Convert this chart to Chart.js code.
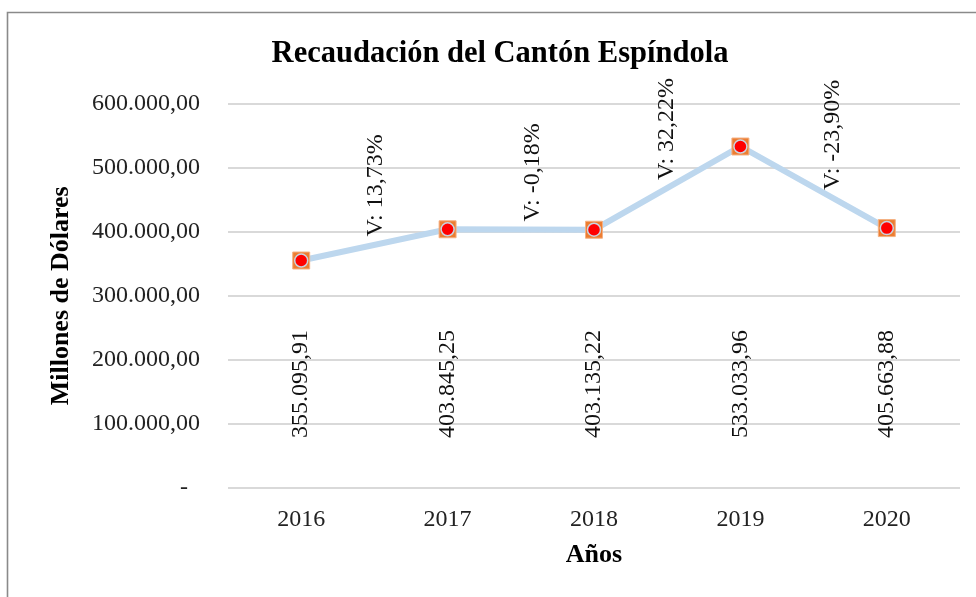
<!DOCTYPE html>
<html>
<head>
<meta charset="utf-8">
<script src="https://cdn.jsdelivr.net/npm/chart.js@4/dist/chart.umd.min.js"></script>
<style>
  html, body { margin: 0; padding: 0; background: #fff; }
  #wrap { width: 976px; height: 597px; }
</style>
</head>
<body>
<div id="wrap"><canvas id="c" width="976" height="597"></canvas></div>
<script>
const years = ['2016', '2017', '2018', '2019', '2020'];
const recaudacion = [355095.91, 403845.25, 403135.22, 533033.96, 405663.88];
const variationLabels = ['V: 13,73%', 'V: -0,18%', 'V: 32,22%', 'V: -23,90%'];
const yTickValues = [0, 100000, 200000, 300000, 400000, 500000, 600000];

const SERIF = '"Liberation Serif", "Times New Roman", serif';

function fmtEs(v) {
  const parts = v.toFixed(2).split('.');
  const intPart = parts[0].replace(/\B(?=(\d{3})+(?!\d))/g, '.');
  return intPart + ',' + parts[1];
}

const frame = {
  id: 'frame',
  beforeDraw(chart) {
    const ctx = chart.ctx;
    ctx.save();
    ctx.strokeStyle = '#8a8a8a';
    ctx.lineWidth = 1.6;
    ctx.beginPath();
    ctx.moveTo(7.5, 597);
    ctx.lineTo(7.5, 12.5);
    ctx.lineTo(976, 12.5);
    ctx.stroke();
    ctx.restore();
  }
};

const rotatedLabels = {
  id: 'rotatedLabels',
  afterDatasetsDraw(chart, args, opts) {
    const ctx = chart.ctx;
    const xs = chart.scales.x, ys = chart.scales.y;
    ctx.save();
    ctx.fillStyle = '#111';
    ctx.font = opts.fontSize + 'px ' + SERIF;
    ctx.textAlign = 'left';
    ctx.textBaseline = 'middle';
    recaudacion.forEach((v, i) => {
      const x = xs.getPixelForValue(i);
      const y = ys.getPixelForValue(opts.valueAnchor);
      ctx.save();
      ctx.translate(x, y);
      ctx.rotate(-Math.PI / 2);
      ctx.fillText(fmtEs(v), 0, 0);
      ctx.restore();
    });
    variationLabels.forEach((t, i) => {
      const f = opts.varFractions[i];
      const x0 = xs.getPixelForValue(i), x1 = xs.getPixelForValue(i + 1);
      const x = x0 + (x1 - x0) * f;
      const v = recaudacion[i] + (recaudacion[i + 1] - recaudacion[i]) * f;
      const y = ys.getPixelForValue(v) - opts.varGap;
      ctx.save();
      ctx.translate(x, y);
      ctx.rotate(-Math.PI / 2);
      ctx.fillText(t, 0, 0);
      ctx.restore();
    });
    ctx.restore();
  }
};

new Chart(document.getElementById('c'), {
  type: 'line',
  data: {
    labels: years,
    datasets: [
      {
        data: recaudacion,
        showLine: false,
        pointStyle: 'circle',
        pointRadius: 6.5,
        pointBackgroundColor: '#FF0000',
        pointBorderColor: '#C9D3E0',
        pointBorderWidth: 1.5,
        pointHoverRadius: 6.5
      },
      {
        data: recaudacion,
        borderColor: '#BDD7EE',
        borderWidth: 6,
        tension: 0,
        pointStyle: 'rect',
        pointRadius: 12,
        pointBackgroundColor: '#ED7D31',
        pointBorderColor: '#F4B183',
        pointBorderWidth: 1,
        pointHoverRadius: 12
      }
    ]
  },
  options: {
    responsive: false,
    animation: false,
    layout: { padding: { left: 40, right: 16, top: 0, bottom: 0 } },
    plugins: {
      legend: { display: false },
      tooltip: { enabled: false },
      title: {
        display: true,
        text: 'Recaudación del Cantón Espíndola',
        color: '#000',
        font: { family: SERIF, size: 30.5, weight: 'bold' },
        padding: { top: 36, bottom: 31 }
      },
      rotatedLabels: { fontSize: 24, valueAnchor: 78000, varFractions: [0.51, 0.58, 0.5, 0.63], varGap: 8 }
    },
    scales: {
      x: {
        offset: true,
        grid: { display: false, drawTicks: false, offset: true },
        border: { display: false },
        ticks: { color: '#222', font: { family: SERIF, size: 24 }, padding: 17 },
        title: {
          display: true,
          text: 'Años',
          color: '#000',
          font: { family: SERIF, size: 26, weight: 'bold' },
          padding: { top: 0, bottom: 26 }
        },
        afterFit(scale) { scale.height = 109; }
      },
      y: {
        min: 0,
        max: 600000,
        afterBuildTicks(scale) { scale.ticks = yTickValues.map(v => ({ value: v })); },
        grid: { color: '#D9D9D9', lineWidth: 2, drawTicks: false },
        border: { display: false },
        ticks: {
          color: '#222',
          font: { family: SERIF, size: 24 },
          padding: 28,
          callback: (v) => v === 0 ? '-\u2007' : fmtEs(v)
        },
        title: {
          display: true,
          text: 'Millones de Dólares',
          color: '#000',
          font: { family: SERIF, size: 26, weight: 'bold' },
          padding: { top: 6, bottom: 0 }
        },
        afterFit(scale) { scale.width = 188; }
      }
    }
  },
  plugins: [frame, rotatedLabels]
});
</script>
</body>
</html>
